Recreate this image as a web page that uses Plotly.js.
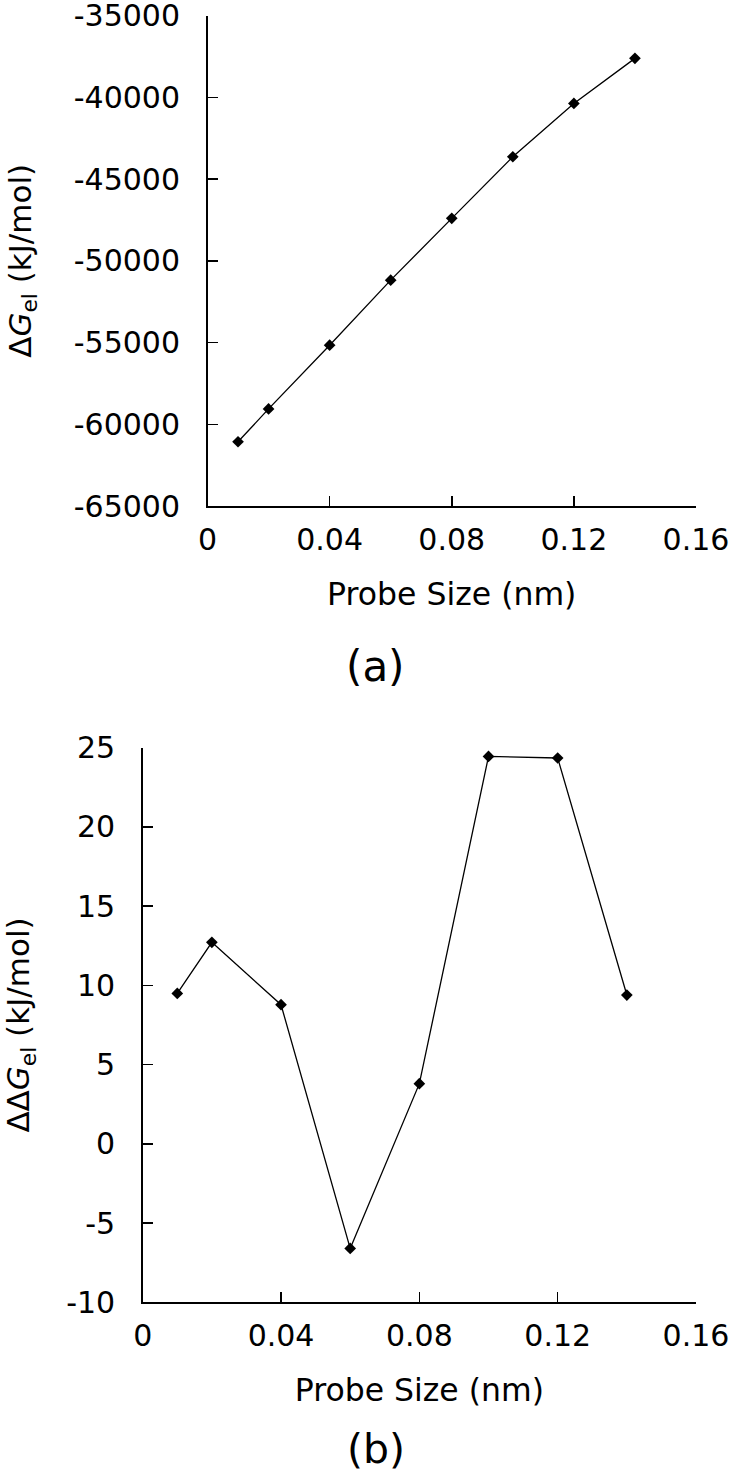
<!DOCTYPE html>
<html>
<head>
<meta charset="utf-8">
<script src="https://cdn.plot.ly/plotly-3.0.1.min.js"></script>
<style>html,body{margin:0;padding:0;background:#fff;}#chart{width:737px;height:1474px;}</style>
</head>
<body>
<div id="chart"></div>
<script>
// Data
var probeSize = [0.01, 0.02, 0.04, 0.06, 0.08, 0.10, 0.12, 0.14];
var deltaG = [-61070, -59060, -55160, -51180, -47400, -43630, -40370, -37610];
var deltaDeltaG = [9.49, 12.72, 8.78, -6.6, 3.8, 24.45, 24.35, 9.39];

var xTickVals = [0, 0.04, 0.08, 0.12, 0.16];
var xTickText = ["0", "0.04", "0.08", "0.12", "0.16"];
var yTopTickVals = [-65000, -60000, -55000, -50000, -45000, -40000, -35000];
var yTopTickText = ["-65000", "-60000", "-55000", "-50000", "-45000", "-40000", "-35000"];
var yBotTickVals = [-10, -5, 0, 5, 10, 15, 20, 25];
var yBotTickText = ["-10", "-5", "0", "5", "10", "15", "20", "25"];
var panelLabels = ["(a)", "(b)"];

var W = 737, H = 1474;
var FONT = "DejaVu Sans";

var lineStyle = {color: "#000", width: 1.3};
var markerStyle = {symbol: "diamond", size: 9, color: "#000"};

var traces = [
  {x: probeSize, y: deltaG, xaxis: "x", yaxis: "y", mode: "lines+markers",
   line: lineStyle, marker: markerStyle, showlegend: false, cliponaxis: false},
  {x: probeSize, y: deltaDeltaG, xaxis: "x2", yaxis: "y2", mode: "lines+markers",
   line: lineStyle, marker: markerStyle, showlegend: false, cliponaxis: false}
];

function xAxis(domain, anchor) {
  return {
    domain: domain, anchor: anchor, range: [0, 0.16],
    tickmode: "array", tickvals: xTickVals, ticktext: xTickText,
    showline: true, linecolor: "#000", linewidth: 1.5,
    ticks: "inside", ticklen: 10, tickwidth: 1.5, tickcolor: "#000",
    showgrid: false, zeroline: false,
    tickfont: {family: FONT, size: 30, color: "#000"},
    ticklabelstandoff: 6, ticklabeloverflow: "allow",
    title: {text: "Probe Size (nm)", font: {family: FONT, size: 31.5, color: "#000"}, standoff: 27}
  };
}
function yAxis(domain, anchor, range, vals, text, title, standoff) {
  return {
    domain: domain, anchor: anchor, range: range,
    tickmode: "array", tickvals: vals, ticktext: text,
    showline: true, linecolor: "#000", linewidth: 1.5,
    ticks: "inside", ticklen: 10, tickwidth: 1.5, tickcolor: "#000",
    showgrid: false, zeroline: false,
    tickfont: {family: FONT, size: 30, color: "#000"},
    ticklabelstandoff: 20, ticklabeloverflow: "allow",
    title: {text: title, font: {family: FONT, size: 31, color: "#000"}, standoff: standoff}
  };
}

var layout = {
  width: W, height: H,
  margin: {l: 0, r: 0, t: 0, b: 0},
  paper_bgcolor: "#fff", plot_bgcolor: "#fff",
  font: {family: FONT, color: "#000"},
  xaxis: xAxis([207.5 / W, 696 / W], "y"),
  yaxis: yAxis([1 - 506 / H, 1 - 15.7 / H], "x", [-65000, -35000], yTopTickVals, yTopTickText,
               "Δ<i>G</i><sub>el</sub> (kJ/mol)", 33),
  xaxis2: xAxis([142.7 / W, 696 / W], "y2"),
  yaxis2: yAxis([1 - 1302.3 / H, 1 - 747.7 / H], "x2", [-10, 25], yBotTickVals, yBotTickText,
                "ΔΔ<i>G</i><sub>el</sub> (kJ/mol)", 27),
  annotations: [
    {text: panelLabels[0], xref: "paper", yref: "paper", x: 375 / W, y: 1 - 666 / H,
     xanchor: "center", yanchor: "middle", showarrow: false,
     font: {family: FONT, size: 42, color: "#000"}},
    {text: panelLabels[1], xref: "paper", yref: "paper", x: 376 / W, y: 1 - 1449 / H,
     xanchor: "center", yanchor: "middle", showarrow: false,
     font: {family: FONT, size: 41, color: "#000"}}
  ]
};

Plotly.newPlot("chart", traces, layout, {staticPlot: true, displayModeBar: false});
</script>
</body>
</html>
